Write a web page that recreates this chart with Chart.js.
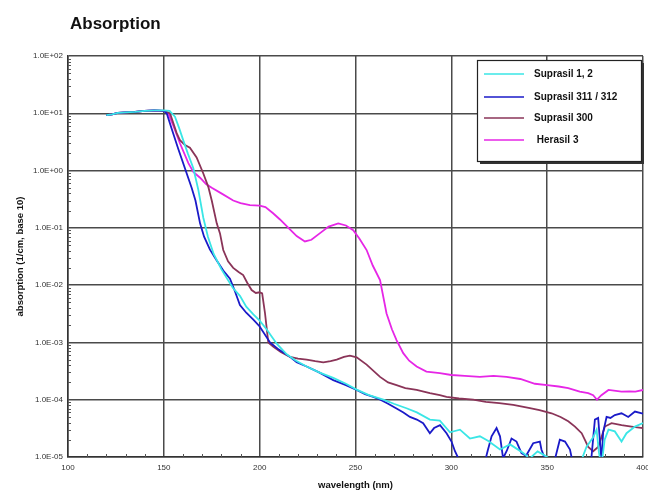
<!DOCTYPE html>
<html>
<head>
<meta charset="utf-8">
<script src="https://cdn.jsdelivr.net/npm/chart.js@4/dist/chart.umd.min.js"></script>
<style>
html, body { margin: 0; padding: 0; background: #fff; }
</style>
</head>
<body>
<canvas id="absChart" width="648" height="493"></canvas>
<script>
// wavelengths (nm) and absorption (1/cm, base 10)
const nmSuprasil12 = [120,123,126,130,135,140,145,150,153,155.8,158,160.1,162.5,165.4,168,170.6,173,176,180,183,186,189.7,193,196.7,200,203.6,208.9,214.1,219,224.5,231,238.4,245,250.6,257,264.5,270,276.6,282,288.8,294,299.3,304.5,309.7,314.9,319.3,325.4,330.6,334,337.5,341,345,348,352,356,360,364,368,370.5,374,375.8,377,378.3,380,382,385.3,388.8,391.4,395.8,400];
const absSuprasil12 = [9.3,9.6,10.2,10.4,10.6,11,11.2,11.2,11,8.7,5.5,3.4,2.0,1.1,0.46,0.15,0.07,0.035,0.019,0.013,0.009,0.0065,0.0042,0.0031,0.0024,0.0017,0.00095,0.00062,0.00048,0.00038,0.0003,0.00024,0.00019,0.00015,0.00012,0.0001,0.000085,0.000071,0.00006,0.000045,0.000043,0.000027,0.00003,0.000021,0.000023,0.000019,0.0000135,0.0000166,0.000014,0.0000117,0.0000095,0.0000125,0.000011,0.000009,0.000008,0.000008,0.000008,0.000009,0.000015,0.000022,0.00003,0.000012,0.000007,0.00002,0.00003,0.000028,0.0000186,0.000026,0.000034,0.000039];

const nmSuprasil311 = [120,123,126,130,135,140,145,150,151.5,154,157.5,161,164.5,166.5,168.9,171,174,177.6,181,184.5,187,189.7,193,196.7,200,205.4,210,215.8,219.3,224.5,231,238.4,245,250.6,255,259.3,263,267,271.4,275,278.4,282,285.3,288.8,291,294.1,297.5,300.1,301.9,304,308,313,317,319,321,323.6,325.4,327,329,331.4,334,336.6,339,342.7,346.2,347,349,352,354,356.6,359.3,361.9,363,367,371,373,374.9,376.6,377.5,378.3,379.2,381,383,385.3,388.8,392.3,395.8,400];
const absSuprasil311 = [9.3,9.6,10.2,10.4,10.6,11,11.2,11,10,5.5,2.4,1.1,0.5,0.3,0.12,0.07,0.042,0.027,0.018,0.013,0.008,0.0045,0.0033,0.0025,0.0019,0.001,0.00075,0.00056,0.00045,0.00038,0.0003,0.00022,0.00018,0.000148,0.000125,0.000112,0.0001,0.000085,0.00007,0.00006,0.00005,0.000045,0.000039,0.000026,0.000032,0.000036,0.000026,0.0000186,0.0000126,0.000009,0.000006,0.000005,0.000007,0.000013,0.000023,0.000032,0.000023,0.0000095,0.000013,0.000021,0.0000186,0.0000117,0.0000105,0.0000174,0.0000186,0.0000135,0.000009,0.000006,0.000009,0.00002,0.0000186,0.0000135,0.000009,0.000005,0.000006,0.000009,0.000045,0.000048,0.00002,0.000008,0.000027,0.00005,0.000048,0.000054,0.000058,0.00005,0.000062,0.000057];

const nmSuprasil300 = [120,123,126,130,135,140,145,150,153.2,156.7,158.4,161,163.6,167.1,170.6,173.2,175,177.6,179.3,181,183.5,186.2,189,191.4,193.5,195.8,198,200,201.3,202.8,204.5,207,211,215.8,220,224.5,229,233.2,237,240.2,244,247.1,250.6,255.8,262.8,267,271.4,276,281.9,288.8,294,297.5,304,311.4,318,325,332.3,341,346,352.3,357,361,364.5,368,370,371.4,374,376.6,378.3,380.1,383.6,388.8,394,400];
const absSuprasil300 = [9.3,9.6,10.2,10.4,10.6,11,11.2,11,10,4.5,3.4,2.8,2.5,1.7,0.89,0.52,0.3,0.12,0.08,0.041,0.026,0.02,0.017,0.015,0.011,0.0082,0.0073,0.0075,0.0072,0.0032,0.001,0.00085,0.00068,0.00056,0.00052,0.0005,0.00047,0.00045,0.00047,0.0005,0.00056,0.00059,0.00055,0.00041,0.00025,0.0002,0.00018,0.00016,0.000148,0.00013,0.00012,0.000112,0.000105,0.0001,0.000092,0.000087,0.000081,0.000071,0.000066,0.000058,0.00005,0.000042,0.000034,0.000026,0.000019,0.000015,0.0000126,0.000015,0.000022,0.000034,0.000039,0.000036,0.000034,0.000032];

const nmHerasil3 = [120,123,126,130,135,140,145,150,152.3,155,158.4,162.8,165.4,168.9,172,175,180,186.2,190,194.9,200,203,207,210.6,215,219.3,223.6,227,231.5,236,241,245,248.8,252,255.8,259,262.8,266.2,269,271.4,274.9,278,281.9,287,294,300,307,314.9,322,328.8,336,343.6,350,356,361,367,371.4,374,376,378.3,382,388.8,393,396,400];
const absHerasil3 = [9.3,9.6,10.2,10.4,10.6,11,11.2,11,10,6,3.0,1.35,0.95,0.75,0.58,0.5,0.4,0.3,0.27,0.25,0.245,0.23,0.18,0.14,0.1,0.072,0.058,0.062,0.081,0.105,0.12,0.11,0.091,0.065,0.041,0.022,0.0123,0.0032,0.0017,0.0011,0.00065,0.00048,0.00038,0.00031,0.00029,0.00027,0.00026,0.00025,0.00026,0.00025,0.00023,0.00019,0.00018,0.00017,0.00016,0.000138,0.00013,0.00012,0.0001,0.00012,0.000148,0.000138,0.00014,0.000138,0.000148];

const seriesNames = ['Suprasil 1, 2', 'Suprasil 311 / 312', 'Suprasil 300', ' Herasil 3'];
const yTickExponents = [-5, -4, -3, -2, -1, 0, 1, 2];

const seriesColors = ['#3ae6e6', '#1a1ac8', '#8a3458', '#e626e6'];
const seriesX = [nmSuprasil12, nmSuprasil311, nmSuprasil300, nmHerasil3];
const seriesY = [absSuprasil12, absSuprasil311, absSuprasil300, absHerasil3];

const datasets = seriesNames.map((name, i) => ({
  label: name,
  data: seriesX[i].map((x, j) => ({ x: x, y: seriesY[i][j] })),
  borderColor: seriesColors[i],
  borderWidth: 1.8,
  pointRadius: 0,
  fill: false,
  tension: 0
}));

function expLabel(v) {
  const e = Math.round(Math.log10(v));
  const s = e < 0 ? '-' : '+';
  return '1.0E' + s + String(Math.abs(e)).padStart(2, '0');
}

// titles, minor ticks and the boxed legend
const decorations = {
  id: 'decorations',
  afterDraw(chart) {
    const { ctx, chartArea: a, scales: { x, y } } = chart;
    ctx.save();

    ctx.strokeStyle = '#555';
    ctx.lineWidth = 1;
    ctx.beginPath();
    for (let v = 110; v < 400; v += 10) {
      if (v % 50 === 0) continue;
      const px = Math.round(x.getPixelForValue(v)) + 0.5;
      ctx.moveTo(px, a.bottom);
      ctx.lineTo(px, a.bottom - 3);
    }
    for (let e = -5; e < 2; e++) {
      for (let m = 2; m < 10; m++) {
        const py = Math.round(y.getPixelForValue(m * Math.pow(10, e))) + 0.5;
        ctx.moveTo(a.left, py);
        ctx.lineTo(a.left + 3, py);
      }
    }
    ctx.stroke();

    ctx.fillStyle = '#111';
    ctx.font = 'bold 17px "Liberation Sans", Arial, sans-serif';
    ctx.textAlign = 'left';
    ctx.textBaseline = 'alphabetic';
    ctx.fillText('Absorption', 70, 29);

    ctx.font = 'bold 9.5px "Liberation Sans", Arial, sans-serif';
    ctx.textAlign = 'center';
    ctx.textBaseline = 'middle';
    ctx.fillText('wavelength (nm)', (a.left + a.right) / 2, 485);
    ctx.save();
    ctx.translate(20, (a.top + a.bottom) / 2);
    ctx.rotate(-Math.PI / 2);
    ctx.fillText('absorption (1/cm, base 10)', 0, 0);
    ctx.restore();

    // legend box
    const bx = 477, by = 60, bw = 164, bh = 101;
    ctx.fillStyle = '#333';
    ctx.fillRect(bx + 3, by + 3, bw, bh);
    ctx.fillStyle = '#fff';
    ctx.fillRect(bx, by, bw, bh);
    ctx.strokeStyle = '#222';
    ctx.lineWidth = 1.2;
    ctx.strokeRect(bx + 0.5, by + 0.5, bw, bh);

    const rows = [74, 97, 118, 140];
    ctx.font = 'bold 10px "Liberation Sans", Arial, sans-serif';
    ctx.textAlign = 'left';
    ctx.textBaseline = 'middle';
    seriesNames.forEach((name, i) => {
      ctx.strokeStyle = seriesColors[i];
      ctx.lineWidth = 1.6;
      ctx.beginPath();
      ctx.moveTo(484, rows[i]);
      ctx.lineTo(524, rows[i]);
      ctx.stroke();
      ctx.fillStyle = '#111';
      ctx.fillText(name, 534, rows[i]);
    });
    ctx.restore();
  }
};

new Chart(document.getElementById('absChart'), {
  type: 'line',
  data: { datasets: datasets },
  options: {
    responsive: false,
    animation: false,
    layout: { padding: { top: 56, right: 5, left: 0, bottom: 0 } },
    plugins: { legend: { display: false }, tooltip: { enabled: false } },
    scales: {
      x: {
        type: 'linear',
        min: 100,
        max: 400,
        ticks: { stepSize: 50, color: '#333', font: { size: 8, family: '"Liberation Sans", Arial' }, padding: 6, maxRotation: 0 },
        grid: { color: '#4a4a4a', lineWidth: 1.5, drawTicks: false },
        border: { color: '#333', width: 1.5 },
        afterFit(scale) {
          scale.height = 36;
          scale.paddingLeft = 0;
          scale.paddingRight = 0;
        }
      },
      y: {
        type: 'logarithmic',
        min: 1e-5,
        max: 100,
        afterBuildTicks(scale) {
          scale.ticks = yTickExponents.map(e => ({ value: Math.pow(10, e) }));
        },
        ticks: { callback: v => expLabel(v), color: '#333', font: { size: 8, family: '"Liberation Sans", Arial' }, padding: 5 },
        grid: { color: '#4a4a4a', lineWidth: 1.5, drawTicks: false },
        border: { color: '#333', width: 1.5 },
        afterFit(scale) { scale.width = 68; }
      }
    }
  },
  plugins: [decorations]
});
</script>
</body>
</html>
